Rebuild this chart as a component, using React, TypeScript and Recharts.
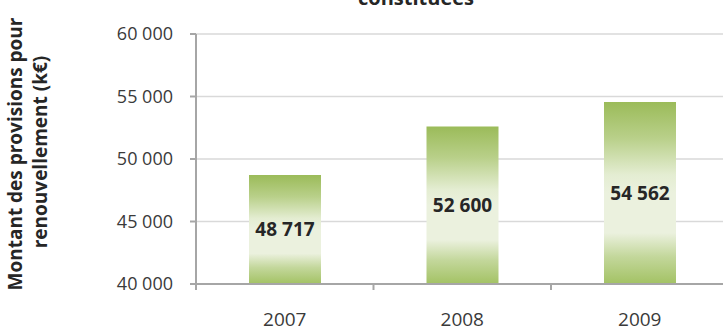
import { Bar, BarChart, CartesianGrid, LabelList, XAxis, YAxis } from "recharts";

const years = ["2007", "2008", "2009"];
const provisions = [48717, 52600, 54562];
const yTicks = [40000, 45000, 50000, 55000, 60000];

const title = "constituées";
const yLabelLines = ["Montant des provisions pour", "renouvellement (k€)"];

const data = years.map((year, i) => ({ year, value: provisions[i] }));

const FONT = "'Open Sans', sans-serif";
const CHART_W = 740;
const CHART_H = 331;
const M = { top: 34, right: 11.5, left: 0, bottom: 0 };
const Y_W = 196;
const X_H = 47;
const BAND = (CHART_W - M.left - M.right - Y_W) / years.length;

const fmt = (v: number) => String(v).replace(/\B(?=(\d{3})+(?!\d))/g, " ");

function XTick(props: any) {
  const { x, y, payload } = props;
  return (
    <g>
      <line x1={x - BAND / 2} x2={x - BAND / 2} y1={y} y2={y + 6} stroke="#a6a6a6" strokeWidth={2} />
      <text x={x} y={y + 42} textAnchor="middle" fill="#3a3a3a" fontSize={19} fontFamily={FONT}>
        {payload.value}
      </text>
    </g>
  );
}

function YLabel() {
  return (
    <g fontFamily={FONT} fontWeight="bold" fontSize={19} fill="#262626">
      <text transform="translate(22,154) rotate(-90)" textAnchor="middle">
        {yLabelLines[0]}
      </text>
      <text transform="translate(47,152) rotate(-90)" textAnchor="middle">
        {yLabelLines[1]}
      </text>
    </g>
  );
}

export default function App() {
  return (
    <div
      style={{
        position: "fixed",
        left: 0,
        top: 0,
        width: 723,
        height: 331,
        overflow: "hidden",
        background: "#fff",
      }}
    >
      <BarChart width={CHART_W} height={CHART_H} data={data} margin={M}>
        <defs>
          <linearGradient id="barFill" x1="0" y1="0" x2="0" y2="1">
            <stop offset="0%" stopColor="#9bbb59" />
            <stop offset="20%" stopColor="#b9d08a" />
            <stop offset="40%" stopColor="#e4edd2" />
            <stop offset="50%" stopColor="#ebf1de" />
            <stop offset="72%" stopColor="#ebf1de" />
            <stop offset="85%" stopColor="#c3d79b" />
            <stop offset="100%" stopColor="#a3c264" />
          </linearGradient>
        </defs>
        <text x={416} y={5} textAnchor="middle" fontFamily={FONT} fontWeight="bold" fontSize={20} fill="#262626">
          {title}
        </text>
        <CartesianGrid vertical={false} stroke="#d9d9d9" strokeWidth={1.5} />
        <XAxis
          dataKey="year"
          height={X_H}
          axisLine={{ stroke: "#a6a6a6", strokeWidth: 2 }}
          tickLine={false}
          tickSize={0}
          tickMargin={0}
          tick={<XTick />}
          interval={0}
        />
        <YAxis
          width={Y_W}
          domain={[40000, 60000]}
          ticks={yTicks}
          allowDataOverflow
          axisLine={{ stroke: "#a6a6a6", strokeWidth: 2 }}
          tickLine={{ stroke: "#a6a6a6", strokeWidth: 2 }}
          tickSize={6}
          tickMargin={17}
          tickFormatter={fmt}
          tick={{ fill: "#3a3a3a", fontSize: 18, fontFamily: FONT }}
          label={{ content: () => <YLabel /> }}
        />
        <Bar dataKey="value" fill="url(#barFill)" barSize={72} isAnimationActive={false}>
          <LabelList
            dataKey="value"
            position="center"
            formatter={(v: any) => fmt(Number(v))}
            style={{ fill: "#262626", fontSize: 19, fontWeight: "bold", fontFamily: FONT }}
          />
        </Bar>
      </BarChart>
    </div>
  );
}
